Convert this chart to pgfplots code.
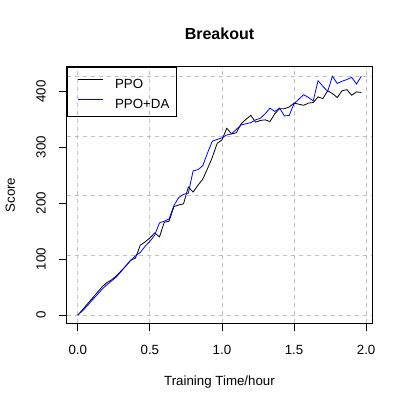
\documentclass[border=0pt]{standalone}
\usepackage{pgfplots}
\pgfplotsset{compat=1.18}
\usepackage{fontspec}
\setmainfont{Liberation Sans}
\begin{document}
\begin{tikzpicture}[x=1pt,y=1pt]
\useasboundingbox (-66.7pt,-83.7pt) rectangle (340.3pt,323.3pt);
\begin{axis}[
  at={(0pt,0pt)}, anchor=south west,
  scale only axis, width=305.6pt, height=256.6pt,
  xmin=-0.077, xmax=2.043, ymin=-14.5, ymax=444,
  xtick={0,0.5,1,1.5,2},
  xticklabels={0.0,0.5,1.0,1.5,2.0},
  ytick={0,100,200,300,400},
  xtick pos=bottom, ytick pos=left,
  tick align=outside, major tick length=8pt,
  tick style={black, line width=0.8pt},
  axis line style={black, line width=0.8pt},
  /pgf/number format/assume math mode=true,
  every tick label/.append style={font=\fontsize{13.3}{16}\selectfont},
  xticklabel style={anchor=base, inner sep=0pt, yshift=-23.5pt},
  yticklabel style={anchor=base, inner sep=0pt, xshift=-13pt, rotate=90},
  xmajorgrids,
  grid style={lightgray, dash pattern=on 4pt off 4pt, line width=0.8pt},
  extra y ticks={0,106.75,213.5,320.25,427},
  extra y tick labels={},
  extra y tick style={ymajorgrids, major tick length=0pt, tick style={draw=none}},
  title={Breakout},
  title style={at={(axis description cs:0.5,1.104)}, anchor=center, inner sep=0pt, font=\bfseries\fontsize{16}{19}\selectfont},
  xlabel={Training Time/hour},
  xlabel style={at={(axis description cs:0.5,-0.2436)}, anchor=base, inner sep=0pt, font=\fontsize{13.3}{16}\selectfont},
  ylabel={Score},
  ylabel style={at={(axis description cs:-0.1698,0.5)}, rotate=0, anchor=base, inner sep=0pt, font=\fontsize{13.3}{16}\selectfont},
  legend style={at={(axis description cs:0,1)}, anchor=north west, draw=black, line width=0.8pt, fill=none,
    inner xsep=7pt, inner ysep=7.6pt, row sep=5.2pt, column sep=11.8pt,
    font=\fontsize{13.3}{16}\selectfont,
    nodes={inner sep=0pt, text height=9.5pt, text depth=0pt}},
  legend cell align=left,
  legend image code/.code={\path[draw=none] (0pt,0pt) -- (0pt,9.5pt); \draw[#1] (3.8pt,4.75pt) -- (28.8pt,4.75pt);},
]
\addlegendimage{black, line width=0.8pt}
\addlegendentry{PPO}
\addlegendimage{blue, line width=0.8pt}
\addlegendentry{PPO+DA}
\addplot[black, line width=0.8pt, forget plot] table {
x y
0.0000 0
0.0333 10
0.0667 20
0.1000 30
0.1333 40
0.1667 50
0.2000 58
0.2333 63
0.2667 70
0.3000 79
0.3333 88
0.3667 98
0.4000 102
0.4333 125
0.4667 131
0.5000 138
0.5333 147
0.5667 140
0.6000 166
0.6333 168
0.6667 194
0.7000 197
0.7333 199
0.7667 229
0.8000 220
0.8333 232
0.8667 243
0.9000 262
0.9333 282
0.9667 307
1.0000 313
1.0333 334
1.0667 324
1.1000 326
1.1333 342
1.1667 350
1.2000 357
1.2333 345
1.2667 348
1.3000 349
1.3333 346
1.3667 360
1.4000 369
1.4333 369
1.4667 372
1.5000 379
1.5333 377
1.5667 375
1.6000 379
1.6333 380
1.6667 390
1.7000 387
1.7333 401
1.7667 396
1.8000 389
1.8333 401
1.8667 403
1.9000 393
1.9333 399
1.9667 398
};
\addplot[blue, line width=0.8pt, forget plot] table {
x y
0.0000 0
0.0333 8
0.0667 17
0.1000 27
0.1333 36
0.1667 46
0.2000 54
0.2333 61
0.2667 68
0.3000 78
0.3333 88
0.3667 98
0.4000 106
0.4333 112
0.4667 123
0.5000 132
0.5333 143
0.5667 165
0.6000 168
0.6333 172
0.6667 196
0.7000 210
0.7333 216
0.7667 218
0.8000 258
0.8333 260
0.8667 267
0.9000 290
0.9333 311
0.9667 314
1.0000 317
1.0333 322
1.0667 324
1.1000 332
1.1333 340
1.1667 342
1.2000 344
1.2333 349
1.2667 352
1.3000 360
1.3333 370
1.3667 364
1.4000 370
1.4333 356
1.4667 357
1.5000 378
1.5333 386
1.5667 394
1.6000 389
1.6333 383
1.6667 419
1.7000 409
1.7333 400
1.7667 427
1.8000 414
1.8333 418
1.8667 421
1.9000 425
1.9333 413
1.9667 427
};
\end{axis}
\end{tikzpicture}
\end{document}
